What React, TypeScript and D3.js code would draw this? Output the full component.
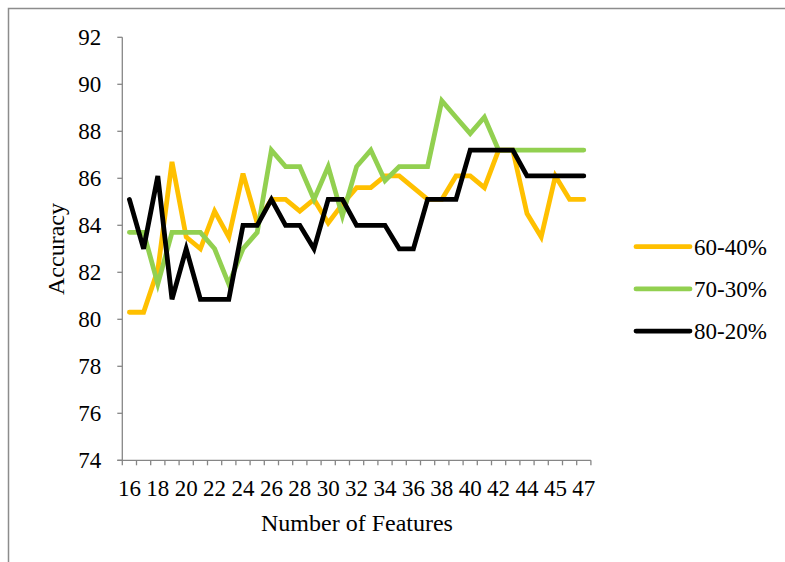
import React from "react";
import * as d3 from "d3";

const categories = [
  "16","17","18","19","20","21","22","23","24","25","26","27","28","29","30","31",
  "32","33","34","35","36","37","38","39","40","41","42","43","44","44","45","46","47",
];
const series6040 = [
  80.3, 80.3, 82.1, 86.7, 83.5, 83.0, 84.6, 83.5, 86.2, 84.1, 85.1, 85.1, 84.6, 85.1, 84.1, 84.9,
  85.6, 85.6, 86.1, 86.1, 85.6, 85.1, 85.1, 86.1, 86.1, 85.6, 87.2, 87.2, 84.5, 83.5, 86.1, 85.1, 85.1,
];
const series7030 = [
  83.7, 83.7, 81.5, 83.7, 83.7, 83.7, 83.0, 81.5, 83.0, 83.7, 87.2, 86.5, 86.5, 85.1, 86.5, 84.4,
  86.5, 87.2, 85.9, 86.5, 86.5, 86.5, 89.3, 88.6, 87.9, 88.6, 87.2, 87.2, 87.2, 87.2, 87.2, 87.2, 87.2,
];
const series8020 = [
  85.1, 83.0, 86.1, 80.85, 83.0, 80.85, 80.85, 80.85, 84.0, 84.0, 85.1, 84.0, 84.0, 83.0, 85.1, 85.1,
  84.0, 84.0, 84.0, 83.0, 83.0, 85.1, 85.1, 85.1, 87.2, 87.2, 87.2, 87.2, 86.1, 86.1, 86.1, 86.1, 86.1,
];
const seriesNames = ["60-40%", "70-30%", "80-20%"];
const seriesColors = ["#FFC000", "#92D050", "#000000"];
const yTicks = [74, 76, 78, 80, 82, 84, 86, 88, 90, 92];

const FONT = "'Liberation Serif', 'Times New Roman', serif";
const AXIS = "#868686";

export default function App() {
  const W = 785, H = 562;
  const left = 122.3, right = 590.9, top = 37.3, bottom = 460.3;
  const idx = categories.map((_, i) => i);
  const x = d3.scaleBand<number>().domain(idx).range([left, right]).padding(0);
  const bw = x.bandwidth();
  const cx = (i: number) => (x(i) as number) + bw / 2;
  const y = d3.scaleLinear().domain([74, 92]).range([bottom, top]);
  const allSeries = [series6040, series7030, series8020];
  const line = d3.line<number>().x((_, i) => cx(i)).y((d) => y(d));
  const fs = 23;

  return (
    <svg width={W} height={H} style={{ position: "absolute", left: 0, top: 0 }}>
      <rect x={0} y={0} width={W} height={H} fill="#fff" />
      <path d={`M8.5,${H + 5}V8.5H${W + 5}`} fill="none" stroke="#8c8c8c" strokeWidth={1.5} />
      {/* y axis */}
      <line x1={left} x2={left} y1={top} y2={bottom} stroke={AXIS} strokeWidth={1.3} />
      {yTicks.map((t) => (
        <g key={t}>
          <line x1={left - 5} x2={left} y1={y(t)} y2={y(t)} stroke={AXIS} strokeWidth={1.3} />
          <text x={left - 21} y={y(t)} dy="0.35em" textAnchor="end" fontFamily={FONT} fontSize={fs} fill="#000">
            {t}
          </text>
        </g>
      ))}
      {/* x axis */}
      <line x1={left - 5} x2={right} y1={bottom} y2={bottom} stroke={AXIS} strokeWidth={1.3} />
      {idx.concat([idx.length]).map((i) => {
        const xx = i < idx.length ? (x(i) as number) : right;
        return <line key={"t" + i} x1={xx} x2={xx} y1={bottom} y2={bottom + 5} stroke={AXIS} strokeWidth={1.3} />;
      })}
      {idx.filter((i) => i % 2 === 0).map((i) => (
        <text key={"l" + i} x={cx(i)} y={bottom + 36} textAnchor="middle" fontFamily={FONT} fontSize={fs} fill="#000">
          {categories[i]}
        </text>
      ))}
      <text x={357} y={531} textAnchor="middle" fontFamily={FONT} fontSize={24} fill="#000">
        Number of Features
      </text>
      <text transform="translate(64,249) rotate(-90)" textAnchor="middle" fontFamily={FONT} fontSize={24} fill="#000">
        Accuracy
      </text>
      {allSeries.map((s, k) => (
        <path key={k} d={line(s) || ""} fill="none" stroke={seriesColors[k]} strokeWidth={4.8}
          strokeLinejoin="miter" strokeLinecap="round" />
      ))}
      {seriesNames.map((n, k) => {
        const ly = 246.7 + k * 42.2;
        return (
          <g key={n}>
            <line x1={636} x2={690} y1={ly} y2={ly} stroke={seriesColors[k]} strokeWidth={4.8} strokeLinecap="round" />
            <text x={694} y={ly} dy="0.35em" fontFamily={FONT} fontSize={fs} fill="#000">{n}</text>
          </g>
        );
      })}
    </svg>
  );
}
